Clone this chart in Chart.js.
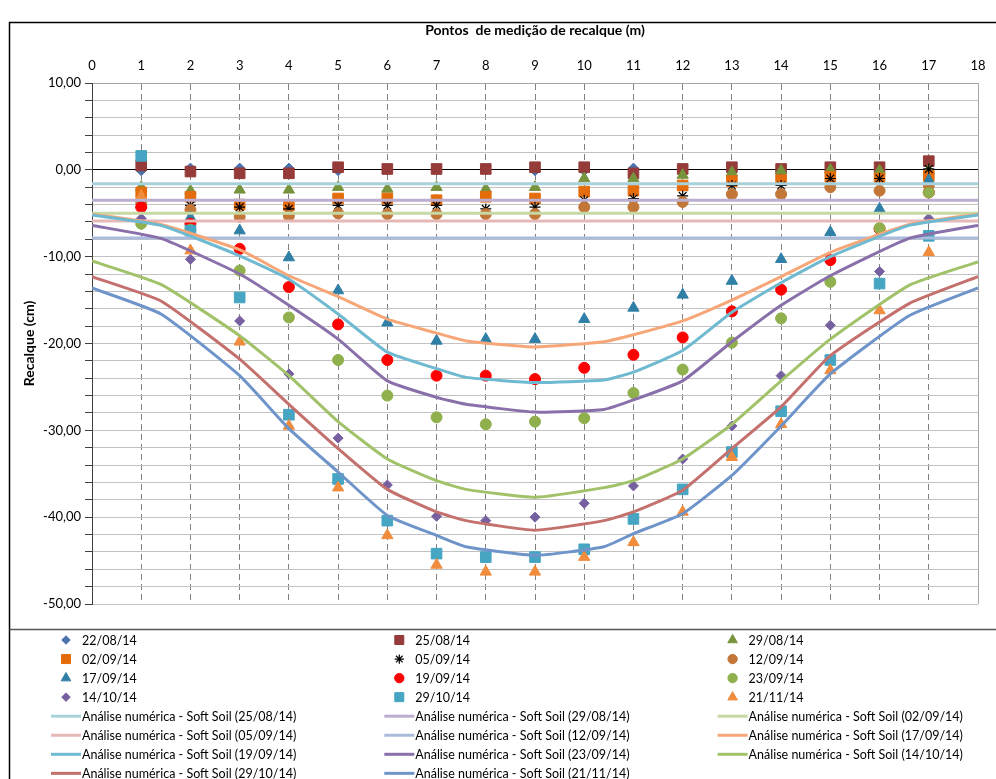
<!DOCTYPE html>
<html>
<head>
<meta charset="utf-8">
<script src="https://cdn.jsdelivr.net/npm/chart.js@4.4.1/dist/chart.umd.min.js"></script>
<style>
  html, body { margin: 0; padding: 0; background: #fff; }
  #wrap { width: 996px; height: 779px; position: relative; }
</style>
</head>
<body>
<div id="wrap"><canvas id="chart" width="996" height="779"></canvas></div>
<script>
// measuring points (m)
const pointX = [1, 2, 3, 4, 5, 6, 7, 8, 9, 10, 11, 12, 13, 14, 15, 16, 17];

// measured settlement (cm)
const m2208 = [-0.1, 0.2, 0.2, 0.2, -0.1, 0.0, 0.0, 0.0, -0.1, -0.1, 0.2, 0.0, -0.1, -0.1, -0.1, 0.0, -0.2];
const m2508 = [0.5, -0.2, -0.4, -0.4, 0.3, 0.1, 0.1, 0.1, 0.3, 0.3, -0.4, 0.1, 0.3, 0.1, 0.3, 0.3, 1.0];
const m2908 = [-2.0, -2.4, -2.3, -2.3, -2.0, -2.2, -2.0, -2.2, -2.0, -1.0, -1.0, -0.6, -0.3, -0.1, 0.0, -0.1, -0.1];
const m0209 = [-2.6, -3.1, -4.0, -4.1, -3.3, -3.3, -3.5, -3.1, -3.3, -2.5, -2.4, -1.8, -1.3, -1.2, -0.8, -1.0, -0.7];
const m0509 = [-3.4, -4.1, -4.3, -4.5, -4.1, -4.1, -4.1, -4.5, -4.3, -3.5, -3.3, -3.0, -1.8, -1.8, -1.0, -1.0, 0.1];
const m1209 = [-3.8, -4.6, -5.4, -5.3, -5.0, -5.1, -5.1, -5.1, -5.1, -4.3, -4.3, -3.7, -2.8, -2.8, -2.0, -2.4, -1.8];
const m1709 = [-4.0, -5.5, -7.0, -10.1, -13.9, -17.6, -19.7, -19.5, -19.5, -17.2, -15.9, -14.4, -12.8, -10.3, -7.2, -4.5, -1.2];
const m1909 = [-4.3, -6.2, -9.1, -13.5, -17.8, -21.9, -23.7, -23.7, -24.1, -22.8, -21.3, -19.3, -16.3, -13.8, -10.4, -6.8, -2.6];
const m2309 = [-6.2, -6.9, -11.6, -17.0, -21.9, -26.0, -28.5, -29.3, -29.0, -28.6, -25.7, -23.0, -19.9, -17.1, -12.9, -6.7, -2.6];
const m1410 = [-5.6, -10.3, -17.4, -23.5, -30.9, -36.3, -39.9, -40.4, -40.0, -38.4, -36.4, -33.3, -29.5, -23.7, -17.9, -11.7, -5.6];
const m2910 = [1.6, -7.0, -14.7, -28.2, -35.6, -40.4, -44.2, -44.6, -44.6, -43.7, -40.2, -36.8, -32.5, -27.8, -21.9, -13.1, -7.6];
const m2111 = [-3.0, -9.3, -19.8, -29.5, -36.6, -42.1, -45.5, -46.3, -46.3, -44.6, -42.9, -39.4, -33.1, -29.3, -23.1, -16.2, -9.5];

// numerical analysis (Soft Soil)
const flatX = [0, 18];
const s2508 = [-1.6, -1.6];
const s2908 = [-3.5, -3.5];
const s0209 = [-5.0, -5.0];
const s0509 = [-5.9, -5.9];
const s1209 = [-7.85, -7.85];

const curveX = [0, 1.4, 3, 4, 5, 6, 7, 7.6, 9, 10.4, 11, 12, 13, 14, 15, 16.6, 18];
const s1709 = [-5.1, -6.3, -9.2, -12.2, -14.6, -17.2, -18.8, -19.7, -20.4, -19.8, -19.0, -17.4, -15.0, -12.3, -9.5, -6.3, -5.1];
const s1909 = [-5.2, -6.4, -9.9, -12.6, -16.6, -21.0, -22.9, -23.9, -24.5, -24.2, -23.3, -20.8, -16.4, -13.0, -10.0, -6.4, -5.2];
const s2309 = [-6.4, -7.9, -12.0, -15.6, -19.5, -24.3, -26.2, -27.0, -27.9, -27.6, -26.5, -24.3, -19.8, -15.6, -12.2, -7.9, -6.4];
const s1410 = [-10.5, -13.2, -19.1, -23.7, -29.0, -33.3, -35.8, -36.8, -37.7, -36.6, -35.8, -33.3, -29.3, -24.3, -19.5, -13.3, -10.6];
const s2910 = [-12.3, -15.1, -21.8, -27.0, -32.1, -36.8, -39.4, -40.4, -41.5, -40.4, -39.4, -36.9, -32.1, -27.3, -21.4, -15.4, -12.3];
const s2111 = [-13.6, -16.6, -23.7, -29.8, -34.8, -39.8, -42.1, -43.4, -44.4, -43.4, -41.9, -39.6, -35.2, -29.5, -23.5, -16.8, -13.6];

const yTicksMin = -50, yTicksMax = 10;

const pts = (xs, ys) => xs.map((x, i) => ({ x, y: ys[i] }));

// marker series: [label, values, style, radius, color]
const measured = [
  ['22/08/14', m2208, 'rectRot', 5, '#4a72ac'],
  ['25/08/14', m2508, 'rect', 7.5, '#953b39'],
  ['29/08/14', m2908, 'triangle', 6.5, '#77933c'],
  ['02/09/14', m0209, 'rect', 7.5, '#e46c0a'],
  ['05/09/14', m0509, 'star', 5.5, '#000000'],
  ['12/09/14', m1209, 'circle', 5.5, '#c27739'],
  ['17/09/14', m1709, 'triangle', 6.5, '#2f7fa6'],
  ['19/09/14', m1909, 'circle', 5.5, '#ff0000'],
  ['23/09/14', m2309, 'circle', 5.5, '#8fb04c'],
  ['14/10/14', m1410, 'rectRot', 5, '#7660a0'],
  ['29/10/14', m2910, 'rect', 7.5, '#45a5c2'],
  ['21/11/14', m2111, 'triangle', 6.5, '#f08c3c'],
];

const analysis = [
  ['25/08/14', flatX, s2508, '#a9d1dc'],
  ['29/08/14', flatX, s2908, '#bcaed0'],
  ['02/09/14', flatX, s0209, '#c6d9a4'],
  ['05/09/14', flatX, s0509, '#e6b8b7'],
  ['12/09/14', flatX, s1209, '#aabbdc'],
  ['17/09/14', curveX, s1709, '#f6a677'],
  ['19/09/14', curveX, s1909, '#6fbad0'],
  ['23/09/14', curveX, s2309, '#8a70aa'],
  ['14/10/14', curveX, s1410, '#a2c26a'],
  ['29/10/14', curveX, s2910, '#c4706d'],
  ['21/11/14', curveX, s2111, '#6e94ca'],
];

const datasets = [];
measured.forEach(([label, vals, style, r, color], i) => {
  datasets.push({
    label, data: pts(pointX, vals), showLine: false,
    pointStyle: style, pointRadius: r, pointHoverRadius: r,
    backgroundColor: color, borderColor: color, pointBorderWidth: style === 'star' ? 1.2 : 1,
    order: 100 - i
  });
});
analysis.forEach(([date, xs, vals, color], j) => {
  datasets.push({
    label: 'Análise numérica - Soft Soil (' + date + ')', data: pts(xs, vals), showLine: true,
    borderColor: color, backgroundColor: color, borderWidth: 3, pointRadius: 0, tension: 0.15,
    order: 20 - j
  });
});

// frame around the chart + legend separator
const framePlugin = {
  id: 'frame',
  beforeDraw(chart) {
    const ctx = chart.ctx;
    ctx.save();
    ctx.fillStyle = '#fff';
    ctx.fillRect(0, 0, chart.width, chart.height);
    ctx.strokeStyle = '#000';
    ctx.lineWidth = 1.5;
    ctx.beginPath();
    ctx.moveTo(9.5, chart.height); ctx.lineTo(9.5, 22.5); ctx.lineTo(chart.width, 22.5);
    ctx.stroke();
    ctx.strokeStyle = '#555';
    ctx.lineWidth = 1.5;
    ctx.beginPath();
    ctx.moveTo(9.5, 629.5); ctx.lineTo(chart.width, 629.5);
    ctx.stroke();
    ctx.restore();
  }
};

// Excel-like legend: three fixed columns below the chart
const gridLegend = {
  id: 'gridLegend',
  afterDraw(chart) {
    const ctx = chart.ctx;
    ctx.save();
    ctx.font = '12.5px Lato';
    ctx.textBaseline = 'middle';
    chart.data.datasets.forEach((ds, i) => {
      const col = i % 3, row = Math.floor(i / 3);
      const x0 = 51 + col * 333.3;
      const y = 640 + row * 19.05;
      if (ds.showLine) {
        ctx.strokeStyle = ds.borderColor;
        ctx.lineWidth = 3;
        ctx.beginPath();
        ctx.moveTo(x0, y); ctx.lineTo(x0 + 30, y);
        ctx.stroke();
      } else {
        ctx.fillStyle = ds.backgroundColor;
        ctx.strokeStyle = ds.borderColor;
        ctx.lineWidth = ds.pointBorderWidth;
        Chart.helpers.drawPoint(ctx, {
          pointStyle: ds.pointStyle, radius: ds.pointRadius * 0.85, rotation: 0, borderWidth: ds.pointBorderWidth
        }, x0 + 15, y);
      }
      ctx.fillStyle = '#000';
      ctx.fillText(ds.label, x0 + 31, y + 1);
    });
    ctx.restore();
  }
};

const fmt = v => v.toFixed(2).replace('.', ',');

new Chart(document.getElementById('chart'), {
  type: 'scatter',
  data: { datasets },
  options: {
    responsive: false,
    animation: false,
    layout: { padding: { left: 0, top: 0, right: 18, bottom: 175 } },
    plugins: {
      legend: { display: false },
      tooltip: { enabled: false }
    },
    scales: {
      x: {
        type: 'linear', position: 'top', min: 0, max: 18,
        afterFit: s => { s.height = 83; },
        ticks: { stepSize: 1, autoSkip: false, maxRotation: 0, padding: 9, color: '#000', font: { family: 'Lato', size: 13 } },
        grid: {
          drawTicks: false,
          color: c => c.tick.value === 0 ? 'rgba(0,0,0,0)' : (c.tick.value === 18 ? '#a6a6a6' : '#808080'),
          lineWidth: 1
        },
        border: {
          display: true, color: '#a6a6a6', width: 1,
          dash: c => (c.tick && c.tick.value === 18) ? [] : [6, 4]
        },
        title: {
          display: true, text: 'Pontos  de medição de recalque (m)', color: '#000',
          font: { family: 'Lato', size: 14, weight: 'bold' }, padding: { top: 22, bottom: 0 }
        }
      },
      y: {
        type: 'linear', min: yTicksMin, max: yTicksMax,
        afterFit: s => { s.width = 92; },
        ticks: {
          stepSize: 2, autoSkip: false, padding: 4, color: '#000', font: { family: 'Lato', size: 13 },
          callback: v => (v % 10 === 0 ? fmt(v) : '')
        },
        grid: {
          color: c => c.tick.value === 0 ? '#000000' : '#c2c2c2',
          lineWidth: 1, tickLength: 7, tickColor: '#404040'
        },
        border: { display: true, color: '#404040', width: 1 },
        title: {
          display: true, text: 'Recalque (cm)', color: '#000',
          font: { family: 'Lato', size: 14, weight: 'bold' }, padding: { top: 21, bottom: 0 }
        }
      }
    }
  },
  plugins: [framePlugin, gridLegend]
});
</script>
</body>
</html>
